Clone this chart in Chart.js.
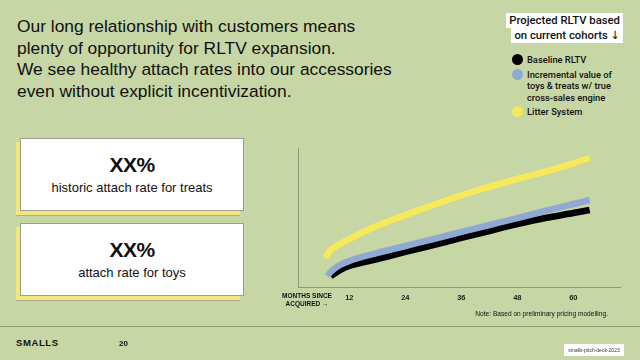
<!DOCTYPE html>
<html><head><meta charset="utf-8">
<script src="https://cdn.jsdelivr.net/npm/chart.js@4.4.1/dist/chart.umd.min.js"></script>
<style>
html,body{margin:0;padding:0;}
body{width:640px;height:360px;background:#c6d6a5;position:relative;overflow:hidden;font-family:"Liberation Sans",Arial,sans-serif;color:#111;}
#title{position:absolute;left:17px;top:16px;font-size:17.4px;line-height:21.7px;}
.card{position:absolute;left:20px;width:222px;height:71px;background:#fff;border:1px solid #9aa090;box-shadow:-4px 4px 0 0 #f1e77c, -4px 5px 0 0 #a8ad8c;text-align:center;}
.card .big{font-weight:bold;font-size:21px;margin-top:14px;letter-spacing:-0.5px;}
.card .sub{font-size:13px;margin-top:3px;}
#lgTitle{position:absolute;right:17px;top:13px;text-align:right;font-family:Roboto,"DejaVu Sans",sans-serif;font-size:11.3px;font-weight:500;line-height:15px;}
#lgTitle span{background:#fff;padding:1px 3px;}
#legend{position:absolute;left:511px;top:54px;font-family:Roboto,sans-serif;font-size:9.3px;font-weight:500;line-height:11.5px;}
.li{position:relative;padding-left:16px;margin-bottom:3px;}
.li i{position:absolute;left:1px;top:0px;width:11px;height:11px;border-radius:50%;}
#xlab{position:absolute;left:270px;top:292px;width:74px;text-align:center;font-size:6.5px;font-weight:bold;line-height:7.5px;}
#note{position:absolute;right:32px;top:310px;font-size:6.6px;}
#rule{position:absolute;left:0;top:326px;width:640px;height:1px;background:#8fa37a;}
#brand{position:absolute;left:16px;top:337px;font-size:9.5px;font-weight:bold;letter-spacing:0.6px;}
#page{position:absolute;left:119px;top:339px;font-size:8px;font-weight:bold;}
#badge{position:absolute;left:564px;top:344px;width:60px;height:12px;background:#fff;font-size:5px;line-height:12px;text-align:center;color:#333;}
#wrap{position:absolute;left:240px;top:130px;width:390px;height:195px;}
</style></head>
<body>
<div id="title">Our long relationship with customers means<br>plenty of opportunity for RLTV expansion.<br>We see healthy attach rates into our accessories<br>even without explicit incentivization.</div>
<div class="card" style="top:138px"><div class="big">XX%</div><div class="sub">historic attach rate for treats</div></div>
<div class="card" style="top:223px"><div class="big">XX%</div><div class="sub">attach rate for toys</div></div>
<div id="lgTitle"><span>Projected RLTV based</span><br><span>on current cohorts <span style="font-family:'DejaVu Sans';padding:0;font-weight:normal">&#x2193;&#xFE0E;</span></span></div>
<div id="legend"></div>
<div id="wrap"><canvas id="c"></canvas></div>
<div id="xlab">MONTHS SINCE<br>ACQUIRED →</div>
<div id="note">Note: Based on preliminary pricing modelling.</div>
<div id="rule"></div>
<div id="brand">SMALLS</div>
<div id="page">20</div>
<div id="badge">smalls-pitch-deck-2023</div>
<script>
const xTicks = [12, 24, 36, 48, 60];
const seriesLabels = ["Baseline RLTV", "Incremental value of<br>toys &amp; treats w/ true<br>cross-sales engine", "Litter System"];
const seriesColors = ["#000000", "#8fa9d2", "#f6e95a"];
const monthsBaseline = [8, 10, 12, 18, 24, 30, 36, 42, 48, 54, 60, 63.5];
const valuesBaseline = [7.9, 12.2, 15.1, 20.1, 25.2, 30.2, 35.3, 40.3, 45.3, 49.6, 53.2, 55.4];
const monthsIncremental = [7.3, 8, 10, 12, 18, 24, 30, 36, 42, 48, 54, 60, 63.5];
const valuesIncremental = [7.9, 10.8, 15.8, 18.7, 24.5, 29.5, 34.5, 39.6, 44.6, 49.6, 54.7, 59.7, 62.6];
const monthsLitter = [6.8, 8, 10, 12, 18, 24, 30, 36, 42, 48, 54, 60, 63.5];
const valuesLitter = [20.9, 26.6, 30.9, 34.5, 44, 51.8, 59, 66, 72, 77.7, 83, 89, 92.8];

const lg = document.getElementById('legend');
seriesLabels.forEach((l, i) => {
  const d = document.createElement('div'); d.className = 'li';
  d.innerHTML = '<i style="background:' + seriesColors[i] + '"></i>' + l;
  lg.appendChild(d);
});

const pts = (xs, ys) => xs.map((x, i) => ({x: x, y: ys[i]}));
const ds = (label, xs, ys, color, order) => ({
  label: label, data: pts(xs, ys), borderColor: color, backgroundColor: color,
  borderWidth: 6.5, pointRadius: 0, tension: 0.4, cubicInterpolationMode: 'monotone',
  borderCapStyle: 'butt', fill: false, order: order
});

new Chart(document.getElementById('c'), {
  type: 'line',
  data: { datasets: [
    ds(seriesLabels[2], monthsLitter, valuesLitter, seriesColors[2], 1),
    ds(seriesLabels[1], monthsIncremental, valuesIncremental, seriesColors[1], 2),
    ds(seriesLabels[0], monthsBaseline, valuesBaseline, seriesColors[0], 3)
  ]},
  options: {
    responsive: true, maintainAspectRatio: false, animation: false,
    layout: { padding: { left: 58, right: 10, top: 18, bottom: 0 } },
    plugins: { legend: { display: false }, tooltip: { enabled: false } },
    scales: {
      x: {
        type: 'linear', min: 1, max: 70,
        grid: { display: false },
        border: { display: true, color: '#8b9a7d', width: 1 },
        afterBuildTicks: a => { a.ticks = xTicks.map(v => ({ value: v })); },
        afterFit: s => { s.height = 38; },
        ticks: { color: '#222', padding: -2, maxRotation: 0, autoSkip: false,
          font: { family: 'Liberation Sans', size: 7.5, weight: 'bold' } }
      },
      y: {
        min: 0, max: 100,
        grid: { display: false },
        border: { display: true, color: '#8b9a7d', width: 1 },
        ticks: { display: false },
        afterFit: s => { s.width = 0; }
      }
    }
  }
});
</script>
</body></html>
